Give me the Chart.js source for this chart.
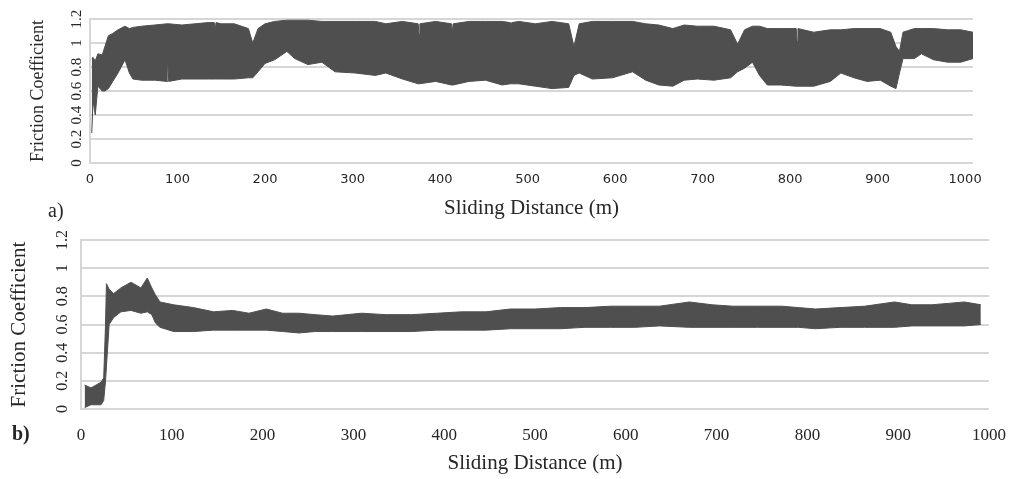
<!DOCTYPE html>
<html lang="en">
<head>
    <meta charset="UTF-8">
    <title>Friction Coefficient x Sliding Distance</title>
    <script src="https://cdn.jsdelivr.net/npm/chart.js"></script>
    <style>
        body {
            margin: 0;
            width: 1014px;
            height: 479px;
            position: relative;
            overflow: hidden;
            background: #fff;
            font-family: "Liberation Serif", "Times New Roman", serif;
            color: #262626;
        }
        .painel { position: absolute; left: 0; }
        .painel canvas { display: block; }
        #painelA { top: 0; }
        #painelB { top: 222px; }
        .letra { position: absolute; font-size: 20px; line-height: 22px; }
    </style>
</head>
<body>

    <div class="painel" id="painelA"><canvas id="graficoA" width="1014" height="222"></canvas></div>
    <div class="painel" id="painelB"><canvas id="graficoB" width="1014" height="257"></canvas></div>
    <div class="letra" style="left: 48px; top: 199px;">a)</div>
    <div class="letra" style="left: 12px; top: 422px; font-weight: bold;">b)</div>

<script>
    // painel a) - envoltoria superior / inferior do sinal
    const distA = [2, 3.5, 6, 9, 14, 17, 21, 26, 32, 40, 45, 49, 59, 74, 88, 89, 90, 105, 120, 135,
        142, 143, 144, 150, 165, 181, 186, 192, 200, 211, 225, 234, 249, 265, 280, 303, 326, 338, 357, 375,
        376, 377, 395, 413, 414, 415, 433, 452, 471, 480, 481, 482, 490, 509, 528, 547, 553, 559, 574, 597,
        620, 635, 650, 666, 679, 694, 713, 732, 740, 748, 757, 765, 774, 789, 807, 808, 809, 827, 846, 858,
        873, 888, 903, 915, 921, 925, 929, 942, 950, 964, 980, 995, 1009];
    const superiorA = [0.87, 0.88, 0.85, 0.91, 0.90, 0.97, 1.06, 1.08, 1.11, 1.14, 1.12, 1.13, 1.14, 1.15, 1.16, 1.16, 1.16, 1.15, 1.16, 1.17,
        1.17, 1.11, 1.17, 1.16, 1.16, 1.12, 1.00, 1.12, 1.16, 1.18, 1.19, 1.19, 1.19, 1.18, 1.18, 1.18, 1.18, 1.16, 1.18, 1.16,
        1.07, 1.16, 1.18, 1.16, 1.09, 1.16, 1.18, 1.18, 1.18, 1.17, 1.10, 1.17, 1.18, 1.16, 1.18, 1.16, 0.97, 1.16, 1.18, 1.18,
        1.18, 1.16, 1.15, 1.12, 1.15, 1.14, 1.14, 1.11, 0.99, 1.11, 1.14, 1.14, 1.12, 1.12, 1.12, 1.01, 1.12, 1.09, 1.11, 1.11,
        1.12, 1.12, 1.12, 1.09, 0.97, 0.93, 1.09, 1.12, 1.12, 1.12, 1.11, 1.11, 1.09];
    const inferiorA = [0.25, 0.52, 0.40, 0.64, 0.60, 0.60, 0.62, 0.68, 0.75, 0.86, 0.75, 0.70, 0.69, 0.69, 0.68, 0.84, 0.68, 0.70, 0.70, 0.70,
        0.70, 0.70, 0.70, 0.70, 0.70, 0.71, 0.71, 0.76, 0.83, 0.86, 0.93, 0.87, 0.82, 0.84, 0.76, 0.75, 0.73, 0.75, 0.70, 0.66,
        0.66, 0.66, 0.68, 0.65, 0.65, 0.65, 0.68, 0.69, 0.65, 0.66, 0.66, 0.66, 0.66, 0.64, 0.62, 0.63, 0.73, 0.75, 0.70, 0.71,
        0.76, 0.69, 0.65, 0.64, 0.69, 0.70, 0.69, 0.71, 0.76, 0.79, 0.84, 0.73, 0.65, 0.65, 0.64, 0.64, 0.64, 0.64, 0.68, 0.75,
        0.71, 0.68, 0.69, 0.64, 0.62, 0.75, 0.87, 0.87, 0.91, 0.86, 0.84, 0.84, 0.87];

    // painel b)
    const distB = [4, 11, 22, 25, 27, 28, 31, 36, 44, 55, 66, 73, 78, 82, 87, 102, 124, 146, 167, 185,
        204, 222, 240, 258, 277, 309, 336, 364, 392, 419, 446, 473, 500, 528, 555, 583, 610, 637, 670, 695,
        718, 745, 772, 790, 809, 836, 863, 896, 915, 937, 955, 973, 991];
    const superiorB = [0.17, 0.15, 0.19, 0.22, 0.60, 0.89, 0.85, 0.82, 0.86, 0.90, 0.86, 0.93, 0.86, 0.81, 0.76, 0.74, 0.72, 0.69, 0.70, 0.68,
        0.71, 0.68, 0.68, 0.67, 0.66, 0.68, 0.67, 0.67, 0.68, 0.69, 0.69, 0.71, 0.71, 0.72, 0.72, 0.73, 0.73, 0.73, 0.76, 0.74,
        0.73, 0.73, 0.73, 0.72, 0.71, 0.72, 0.73, 0.76, 0.74, 0.74, 0.75, 0.76, 0.74];
    const inferiorB = [0.01, 0.03, 0.03, 0.06, 0.20, 0.30, 0.60, 0.65, 0.69, 0.70, 0.68, 0.69, 0.67, 0.61, 0.58, 0.55, 0.55, 0.56, 0.56, 0.56,
        0.56, 0.55, 0.54, 0.55, 0.55, 0.55, 0.55, 0.55, 0.56, 0.56, 0.56, 0.57, 0.57, 0.57, 0.58, 0.58, 0.58, 0.59, 0.58, 0.58,
        0.58, 0.58, 0.58, 0.58, 0.57, 0.58, 0.58, 0.58, 0.59, 0.59, 0.59, 0.59, 0.60];

    const ticksX = [0, 100, 200, 300, 400, 500, 600, 700, 800, 900, 1000];
    const ticksY = [0, 0.2, 0.4, 0.6, 0.8, 1, 1.2];

    const corSerie = '#4f4f4f';
    const corGrade = '#d6d6d6';
    const corTexto = '#262626';
    const serif = "'Liberation Serif', 'Times New Roman', serif";

    function pontos(xs, ys) {
        return xs.map((x, i) => ({ x: x, y: ys[i] }));
    }

    function criarGrafico(id, dist, sup, inf, p) {
        new Chart(document.getElementById(id), {
            type: 'line',
            data: {
                datasets: [{
                    data: pontos(dist, sup),
                    fill: '+1',
                    backgroundColor: corSerie,
                    borderColor: corSerie,
                    borderWidth: 1,
                    pointRadius: 0
                }, {
                    data: pontos(dist, inf),
                    fill: false,
                    borderColor: corSerie,
                    borderWidth: 1,
                    pointRadius: 0
                }]
            },
            options: {
                responsive: false,
                animation: false,
                events: [],
                layout: { padding: { left: 0, top: p.topo, right: p.direita, bottom: 0 } },
                plugins: { legend: { display: false }, tooltip: { enabled: false } },
                scales: {
                    x: {
                        type: 'linear',
                        min: 0,
                        max: p.maxX,
                        afterBuildTicks: s => { s.ticks = ticksX.map(v => ({ value: v })); },
                        afterFit: s => { s.height = p.alturaX; },
                        grid: { display: false },
                        border: { display: false },
                        ticks: {
                            color: corTexto,
                            font: p.fonteTickX,
                            padding: p.padTickX,
                            maxRotation: 0,
                            autoSkip: false,
                            callback: v => String(v)
                        },
                        title: {
                            display: true,
                            text: 'Sliding Distance (m)',
                            color: corTexto,
                            font: { family: serif, size: 21, lineHeight: 1 },
                            padding: { top: 0, bottom: p.padTituloX }
                        }
                    },
                    y: {
                        min: 0,
                        max: 1.2,
                        afterBuildTicks: s => { s.ticks = ticksY.map(v => ({ value: v })); },
                        afterFit: s => { s.width = p.larguraY; },
                        grid: { color: corGrade, lineWidth: 2, drawTicks: false },
                        border: { display: true, color: corGrade, width: 2 },
                        ticks: {
                            color: corTexto,
                            font: { family: serif, size: p.tamTickY },
                            padding: p.padTickY,
                            minRotation: 90,
                            maxRotation: 90,
                            crossAlign: 'center',
                            callback: v => String(+v.toFixed(1))
                        },
                        title: {
                            display: true,
                            text: 'Friction Coefficient',
                            color: corTexto,
                            font: { family: serif, size: p.tamTituloY, lineHeight: 1 },
                            padding: { top: p.padTituloY, bottom: 0 }
                        }
                    }
                }
            }
        });
    }

    criarGrafico('graficoA', distA, superiorA, inferiorA, {
        topo: 19, direita: 41, maxX: 1009, alturaX: 59, larguraY: 90,
        fonteTickX: { family: "'DejaVu Sans', sans-serif", size: 13 }, padTickX: 1, padTituloX: 3,
        tamTickY: 15, padTickY: 4, tamTituloY: 18, padTituloY: 29
    });

    criarGrafico('graficoB', distB, superiorB, inferiorB, {
        topo: 18, direita: 21, maxX: 1000, alturaX: 70, larguraY: 81,
        fonteTickX: { family: serif, size: 17 }, padTickX: 8, padTituloX: 5,
        tamTickY: 16, padTickY: 8, tamTituloY: 21, padTituloY: 9
    });
</script>
</body>
</html>
